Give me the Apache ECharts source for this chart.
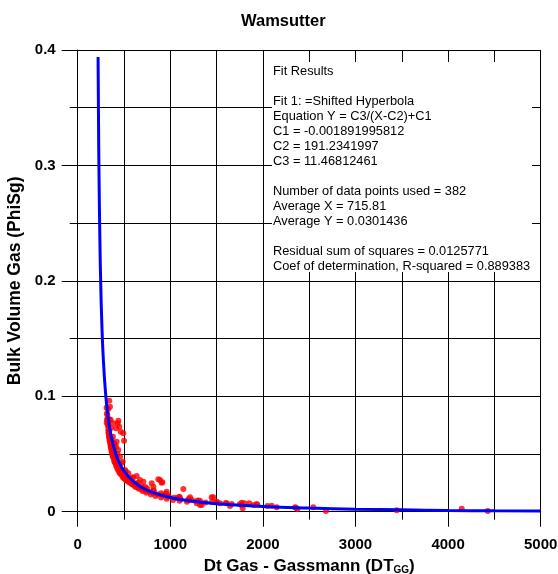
<!DOCTYPE html>
<html>
<head>
<meta charset="utf-8">
<script src="https://cdn.jsdelivr.net/npm/echarts@6/dist/echarts.min.js"></script>
<style>
html,body{margin:0;padding:0;background:#fff;}
#chart{width:558px;height:574px;}
</style>
</head>
<body>
<div id="chart"></div>
<script>
// ---- data ----
var chartTitle = 'Wamsutter';
var xTicks = [0, 1000, 2000, 3000, 4000, 5000];
var yTicks = [0, 0.1, 0.2, 0.3, 0.4];

// fitted curve
var curveX = [220, 225, 230, 240, 250, 260, 275, 300, 325, 350, 400, 450, 500, 600, 700, 800, 1000, 1200, 1500, 2000, 2500, 3000, 3500, 4000, 4500, 5000];
var curveY = [0.394, 0.3377, 0.2939, 0.2332, 0.1932, 0.1649, 0.1350, 0.1035, 0.0838, 0.0703, 0.0530, 0.0424, 0.0353, 0.0262, 0.0207, 0.0169, 0.0123, 0.0095, 0.0069, 0.0045, 0.0031, 0.0022, 0.0016, 0.0011, 0.0008, 0.0005];

var pointsX = [
  312,316,318,322,325,328,330,333,336,338,342,345,348,352,355,358,362,365,368,372,376,380,385,390,395,400,408,415,422,430,440,450,460,472,485,500,515,530,548,565,585,605,628,655,680,710,745,780,820,865,915,975,1040,1110,1190,1280,1380,
  320,326,332,340,350,360,370,382,395,410,425,445,465,490,520,555,595,640,690,750,820,900,980,1080,1200,1320,1450,1600,1750,1900,2050,
  335,345,355,365,375,390,405,420,440,460,480,505,530,560,590,625,660,700,740,790,840,900,960,1030,1100,1180,
  330,345,360,380,400,430,470,520,580,650,730,820,950,1100,1300,1500,
  341,349,313,356,439,432,385,449,414,464,492,500,421,341,367,392,414,438,457,486,511,547,600,637,673,709,799,817,889,907,961,1141,1097,1213,1231,1321,1285,1339,1464,1501,1537,1609,1645,1663,1771,1782,1799,1853,1940,2095,2149,2347,2372,2544,2681,3445,4147,4428,
  871,914,1447,1771,1933,2357
];
var pointsY = [
  0.090,0.085,0.080,0.079,0.076,0.074,0.071,0.069,0.068,0.066,0.064,0.062,0.061,0.059,0.057,0.056,0.055,0.053,0.052,0.051,0.049,0.048,0.047,0.046,0.044,0.043,0.042,0.040,0.039,0.037,0.036,0.034,0.033,0.032,0.030,0.029,0.028,0.027,0.026,0.025,0.024,0.023,0.022,0.021,0.020,0.019,0.018,0.017,0.016,0.015,0.014,0.013,0.012,0.011,0.010,0.009,0.008,
  0.084,0.080,0.075,0.070,0.065,0.060,0.057,0.053,0.049,0.046,0.043,0.040,0.037,0.034,0.031,0.028,0.026,0.024,0.022,0.020,0.018,0.016,0.014,0.012,0.011,0.0095,0.0085,0.0075,0.0065,0.0058,0.0050,
  0.068,0.063,0.059,0.056,0.053,0.049,0.045,0.042,0.039,0.036,0.034,0.031,0.0285,0.026,0.024,0.0215,0.0198,0.018,0.0165,0.015,0.0135,0.0122,0.0112,0.0102,0.0094,0.0086,
  0.089,0.080,0.0725,0.065,0.058,0.050,0.042,0.035,0.0295,0.025,0.0215,0.0185,0.0155,0.0125,0.0098,0.0082,
  0.0962,0.091,0.0771,0.0795,0.0789,0.0766,0.0766,0.0737,0.0723,0.0693,0.0679,0.0615,0.0607,0.065,0.0621,0.0593,0.0563,0.0535,0.0477,0.0433,0.0361,0.0333,0.0298,0.0309,0.0275,0.026,0.0246,0.0217,0.0275,0.0251,0.0173,0.0197,0.013,0.0125,0.0101,0.0058,0.0073,0.0058,0.0125,0.0087,0.0073,0.0073,0.0049,0.0067,0.0058,0.003,0.0073,0.0073,0.0058,0.0052,0.0038,0.0038,0.0023,0.0038,0.0006,0.0012,0.0026,0.0006,
  0.0281,0.0255,0.0125,0.0078,0.0067,0.0035
];

var fitLines = [
  'Fit Results', '',
  'Fit 1: =Shifted Hyperbola',
  'Equation Y = C3/(X-C2)+C1',
  'C1 = -0.001891995812',
  'C2 = 191.2341997',
  'C3 = 11.46812461', '',
  'Number of data points used = 382',
  'Average X = 715.81',
  'Average Y = 0.0301436', '',
  'Residual sum of squares = 0.0125771',
  'Coef of determination, R-squared = 0.889383'
];

// ---- build ----
var scatterData = pointsX.map(function (x, i) { return [x, pointsY[i]]; });
var curveData = curveX.map(function (x, i) { return [x, curveY[i]]; });

var FONT = '"Liberation Sans", Arial, sans-serif';

var graphics = [{
  type: 'rect', z: 100,
  shape: { x: 272, y: 62, width: 260, height: 210 },
  style: { fill: '#fff' }
}];
fitLines.forEach(function (t, i) {
  if (!t) return;
  graphics.push({
    type: 'text', z: 101,
    x: 273, y: 71.5 + i * 15,
    style: { text: t, fill: '#000', font: '12.8px ' + FONT, verticalAlign: 'middle', align: 'left' }
  });
});

var chart = echarts.init(document.getElementById('chart'), null, { renderer: 'canvas' });
chart.setOption({
  animation: false,
  backgroundColor: '#fff',
  title: {
    text: chartTitle, left: 236, top: 8,
    textStyle: { fontFamily: FONT, fontSize: 16.5, fontWeight: 'bold', color: '#000' }
  },
  grid: { left: 77.7, right: 17.3, top: 50, bottom: 62.3, containLabel: false, outerBoundsMode: 'none' },
  xAxis: {
    type: 'value', min: xTicks[0], max: xTicks[xTicks.length - 1], interval: 1000,
    name: '{a|Dt Gas - Gassmann (DT}{b|GG}{a|)}',
    nameLocation: 'middle', nameGap: 45,
    nameTextStyle: {
      rich: {
        a: { fontFamily: FONT, fontSize: 17, fontWeight: 'bold', color: '#000' },
        b: { fontFamily: FONT, fontSize: 10, fontWeight: 'bold', color: '#000', padding: [9, 0, 0, 0] }
      }
    },
    axisLine: { show: true, onZero: false, lineStyle: { color: '#000', width: 1 } },
    axisTick: { show: true, length: 15, lineStyle: { color: '#000' } },
    minorTick: { show: true, splitNumber: 2, length: 8, lineStyle: { color: '#000' } },
    splitLine: { show: true, lineStyle: { color: '#000', width: 1 } },
    minorSplitLine: { show: true, lineStyle: { color: '#000', width: 1 } },
    axisLabel: {
      margin: 26, fontFamily: FONT, fontSize: 15, fontWeight: 'bold', color: '#000',
      formatter: function (v) { return String(Math.round(v)); }
    }
  },
  yAxis: {
    type: 'value', min: yTicks[0], max: yTicks[yTicks.length - 1], interval: 0.1,
    name: 'Bulk Volume Gas (PhiSg)',
    nameLocation: 'middle', nameGap: 54,
    nameTextStyle: { fontFamily: FONT, fontSize: 17.5, fontWeight: 'bold', color: '#000' },
    axisLine: { show: true, onZero: false, lineStyle: { color: '#000', width: 1 } },
    axisTick: { show: true, length: 16, lineStyle: { color: '#000' } },
    minorTick: { show: true, splitNumber: 2, length: 8, lineStyle: { color: '#000' } },
    splitLine: { show: true, lineStyle: { color: '#000', width: 1 } },
    minorSplitLine: { show: true, lineStyle: { color: '#000', width: 1 } },
    axisLabel: {
      margin: 22, fontFamily: FONT, fontSize: 15, fontWeight: 'bold', color: '#000',
      formatter: function (v) { return v === 0 ? '0' : String(Math.round(v * 10) / 10); }
    }
  },
  series: [
    {
      type: 'scatter', data: scatterData, symbol: 'circle', symbolSize: 6,
      itemStyle: { color: '#ff0000' }, z: 3
    },
    {
      type: 'line', data: curveData, smooth: true, showSymbol: false, symbol: 'none',
      lineStyle: { color: '#0000ff', width: 3 }, z: 4
    }
  ],
  graphic: graphics
});
</script>
</body>
</html>
